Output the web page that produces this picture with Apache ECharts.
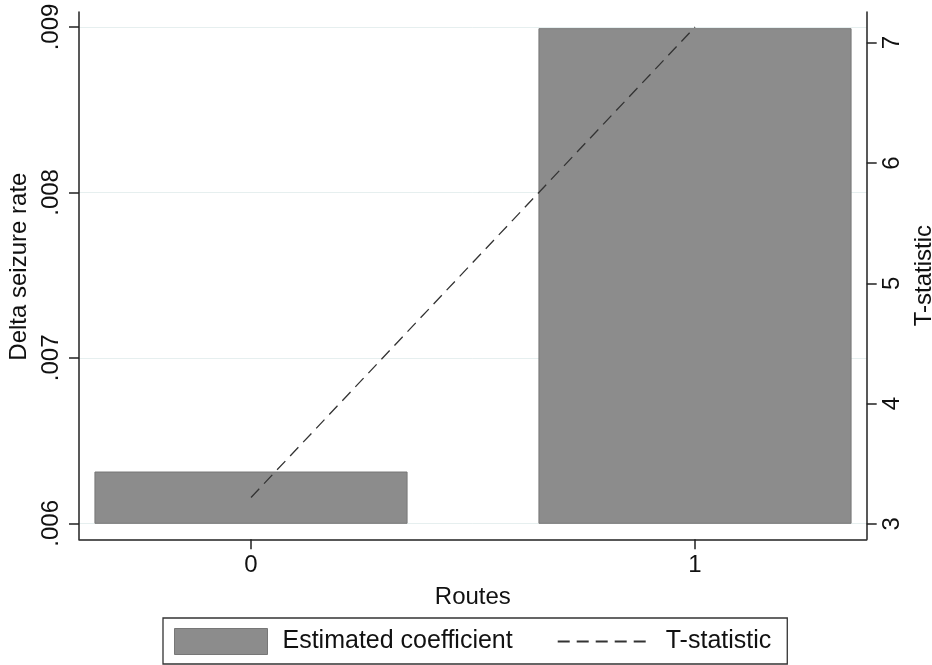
<!DOCTYPE html>
<html>
<head>
<meta charset="utf-8">
<script src="https://cdn.jsdelivr.net/npm/echarts@6/dist/echarts.min.js"></script>
<style>
html,body{margin:0;padding:0;background:#fff;}
#chart{width:932px;height:665px;}
</style>
</head>
<body>
<div id="chart"></div>
<script>
// ---- data ----
const routes = [0, 1];
const coefficients = [0.00631, 0.00899];
const tStatistics = [3.22, 7.13];
const leftTicks = [0.006, 0.007, 0.008, 0.009];
const leftTickLabels = ['.006', '.007', '.008', '.009'];
const rightTicks = [3, 4, 5, 6, 7];
const xTicks = [0, 1];
const barBase = 0.006;

// ---- layout constants ----
const barWidthUnits = 0.703;
const FONT = 'Liberation Sans, Arial, sans-serif';
const TXT = '#111';

const coefData = routes.map((r, i) => [r, coefficients[i]]);
const tData = routes.map((r, i) => [r, tStatistics[i]]);

const chart = echarts.init(document.getElementById('chart'), null, {renderer: 'canvas'});
chart.setOption({
  animation: false,
  backgroundColor: '#fff',
  grid: {left: 79, right: 65.3, top: 12, bottom: 125.7, containLabel: false, outerBoundsMode: 'none'},
  textStyle: {fontFamily: FONT},
  xAxis: {
    type: 'value',
    min: -0.3874, max: 1.3867,
    name: 'Routes', nameLocation: 'middle', nameGap: 46,
    nameTextStyle: {fontFamily: FONT, fontSize: 24, color: TXT},
    axisLine: {show: true, onZero: false, lineStyle: {color: '#222', width: 1.5}},
    axisTick: {show: true, length: 10, customValues: xTicks, lineStyle: {color: '#222', width: 1.5}},
    axisLabel: {show: true, customValues: xTicks, margin: 14, fontFamily: FONT, fontSize: 24, color: TXT,
      formatter: v => String(v)},
    splitLine: {show: false}
  },
  yAxis: [{
    type: 'value',
    position: 'left',
    min: 0.0059033, max: 0.0090907,
    name: 'Delta seizure rate', nameLocation: 'middle', nameGap: 44, nameRotate: 90,
    nameTextStyle: {fontFamily: FONT, fontSize: 24, color: TXT, padding: [0, 0, 0, 18]},
    axisLine: {show: true, onZero: false, lineStyle: {color: '#222', width: 1.5}},
    axisTick: {show: true, length: 10, customValues: leftTicks, lineStyle: {color: '#222', width: 1.5}},
    axisLabel: {show: true, customValues: leftTicks, rotate: 90, margin: 16, fontFamily: FONT, fontSize: 24, color: TXT,
      formatter: v => { const i = leftTicks.findIndex(t => Math.abs(t - v) < 1e-9); return i >= 0 ? leftTickLabels[i] : ''; }},
    splitLine: {show: true, lineStyle: {color: '#e6efef', width: 1}}
  }, {
    type: 'value',
    position: 'right',
    min: 2.872, max: 7.255,
    name: 'T-statistic', nameLocation: 'middle', nameGap: 44, nameRotate: 90,
    nameTextStyle: {fontFamily: FONT, fontSize: 24, color: TXT},
    axisLine: {show: true, onZero: false, lineStyle: {color: '#222', width: 1.5}},
    axisTick: {show: true, length: 10, customValues: rightTicks, lineStyle: {color: '#222', width: 1.5}},
    axisLabel: {show: true, customValues: rightTicks, rotate: 90, margin: 14, fontFamily: FONT, fontSize: 24, color: TXT,
      formatter: v => String(v)},
    splitLine: {show: false}
  }],
  legend: {
    left: 163, top: 618,
    orient: 'horizontal',
    padding: [10, 16, 9, 11],
    itemGap: 44,
    itemWidth: 93, itemHeight: 26,
    borderColor: '#333', borderWidth: 1.3, borderRadius: 0,
    backgroundColor: '#fff',
    textStyle: {fontFamily: FONT, fontSize: 25, color: TXT, padding: [0, 0, 0, 10]},
    data: [
      {name: 'Estimated coefficient', icon: 'rect', itemStyle: {color: '#8c8c8c', borderColor: '#777', borderWidth: 1}},
      {name: 'T-statistic', itemStyle: {color: 'rgba(0,0,0,0)', borderColor: 'rgba(0,0,0,0)', borderWidth: 0, opacity: 0}}
    ]
  },
  series: [{
    name: 'Estimated coefficient',
    type: 'custom',
    xAxisIndex: 0, yAxisIndex: 0,
    data: coefData,
    encode: {x: 0, y: 1},
    itemStyle: {color: '#8c8c8c'},
    renderItem: function (params, api) {
      const x = api.value(0), v = api.value(1);
      const p0 = api.coord([x, barBase]);
      const p1 = api.coord([x, v]);
      const w = api.size([barWidthUnits, 0])[0];
      return {
        type: 'rect',
        shape: {x: p0[0] - w / 2, y: p1[1], width: w, height: p0[1] - p1[1]},
        style: {fill: '#8c8c8c', stroke: '#777', lineWidth: 1}
      };
    },
    z: 2
  }, {
    name: 'T-statistic',
    type: 'line',
    xAxisIndex: 0, yAxisIndex: 1,
    data: tData,
    symbol: 'none',
    lineStyle: {color: '#333', width: 1.3, type: [12, 7]},
    itemStyle: {color: '#333'},
    z: 3
  }]
});
</script>
</body>
</html>
